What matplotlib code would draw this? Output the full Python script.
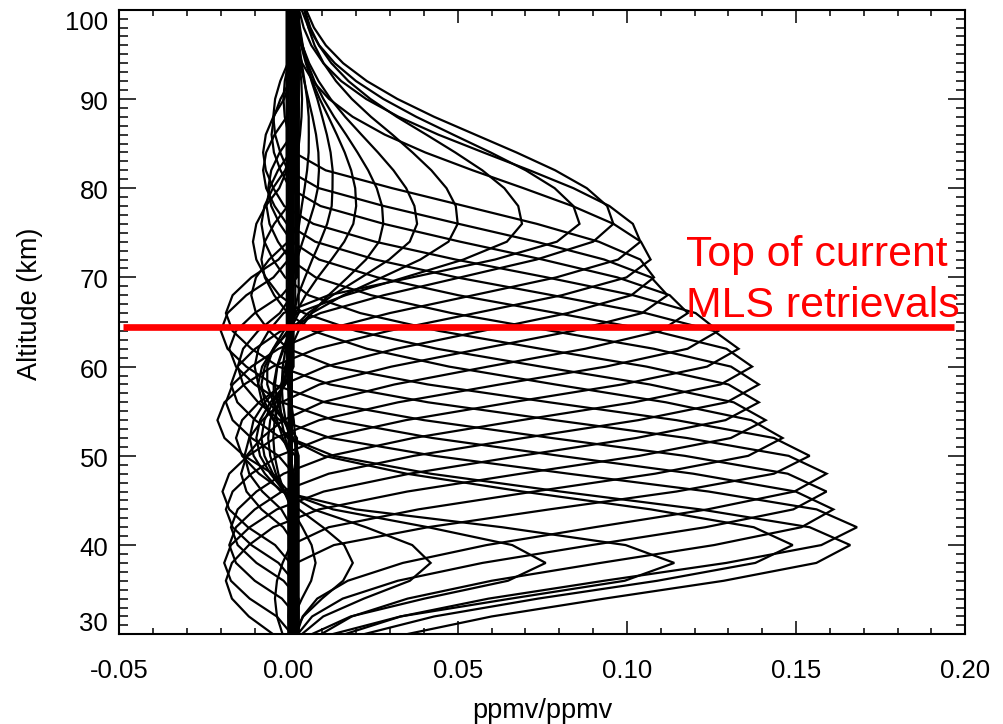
import numpy as np
import matplotlib
matplotlib.use("Agg")
import matplotlib.pyplot as plt
from matplotlib.ticker import MultipleLocator, FixedLocator

plt.rcParams['font.family'] = ['Liberation Sans', 'DejaVu Sans']

# ---------------- data ----------------
levels_km = [28, 30, 32, 34, 36, 38, 40, 42, 44, 46, 48, 50, 52, 54, 56, 58, 60, 62,
             64, 66, 68, 70, 72, 74, 76, 78, 80, 82, 84, 86, 88, 90, 92, 94, 96, 98, 100]

# kernel peak altitude (km) and peak value (ppmv/ppmv)
peak_alt = [38, 38, 38, 38, 38, 40, 40, 42, 44, 46, 48, 50, 52, 54, 56, 58, 60, 62,
            64, 66, 68, 70, 72, 74, 76, 76, 76, 76, 76, 76, 78, 80, 82, 86, 90, 94]
peak_val = [0.008, 0.019, 0.042, 0.076, 0.114, 0.149, 0.166, 0.168, 0.161, 0.159,
            0.159, 0.154, 0.146, 0.141, 0.139, 0.139, 0.137, 0.133, 0.127, 0.118,
            0.112, 0.108, 0.107, 0.104, 0.096, 0.086, 0.069, 0.050, 0.038, 0.028,
            0.020, 0.013, 0.009, 0.006, 0.004, 0.002]
# spread (km) of the main peak below / above the peak altitude
spread_low = [3.5, 3.5, 3.5, 3.5, 3.8, 5.0, 5.5, 5.5, 5.6, 5.6, 5.6, 5.6, 5.6, 5.6,
              5.6, 5.6, 5.6, 5.6, 5.6, 5.6, 5.8, 6.0, 6.0, 6.0, 6.0, 6.0, 6.0, 6.0,
              6.2, 6.4, 6.6, 7.0, 7.0, 7.0, 7.0, 7.0]
spread_up = [4.5, 4.5, 4.5, 4.5, 4.8, 5.2, 5.4, 5.6, 5.6, 5.6, 5.6, 5.6, 5.6, 5.6,
             5.6, 5.8, 6.0, 6.2, 6.5, 7.0, 7.5, 8.0, 8.6, 9.0, 9.2, 9.2, 9.2, 9.2,
             9.2, 9.2, 9.0, 8.5, 8.0, 7.0, 6.0, 5.0]
# negative side lobe below the peak: depth (ppmv/ppmv) and centre distance (km)
lobe_low = [0.0, 0.0, 0.0, 0.0, 0.0, 0.0, 0.0, 0.0, 0.0, 0.0, 0.0, 0.003, 0.006,
            0.018, 0.020, 0.020, 0.020, 0.020, 0.020, 0.016, 0.014, 0.018, 0.021,
            0.020, 0.019, 0.011, 0.009, 0.007, 0.005, 0.004, 0.003, 0.002, 0.001,
            0.0, 0.0, 0.0]
lobe_dist_low = [18, 18, 18, 18, 18, 18, 18, 18, 18, 18, 18, 18, 18, 18, 18, 18,
                 18, 18, 18, 18, 18, 18, 18, 18, 18, 16, 17, 18, 19, 20, 20, 20,
                 20, 20, 20, 20]
# negative side lobe above the peak: depth (ppmv/ppmv) and centre distance (km)
lobe_up = [0.004, 0.006, 0.009, 0.011, 0.012, 0.010, 0.012, 0.016, 0.020, 0.020,
           0.020, 0.014, 0.010, 0.010, 0.009, 0.009, 0.009, 0.009, 0.008, 0.007,
           0.0055, 0.004, 0.0, 0.0, 0.0, 0.0, 0.0, 0.0, 0.0, 0.0, 0.0, 0.0, 0.0,
           0.0, 0.0, 0.0]
lobe_dist_up = [14, 14, 14, 14, 14, 18, 18, 18, 18, 18, 18, 18, 20, 20, 20, 20,
                20, 20, 20, 20, 20, 20, 20, 20, 20, 20, 20, 20, 20, 20, 20, 20,
                20, 20, 20, 20]
lobe_half = 7.0
# small residual far from the peak (the thick bundle near zero)
tail_val = [-0.0005, 0.0000, 0.0010, 0.0015, 0.0005, 0.0020, 0.0030, 0.0010,
            0.0025, 0.0000, 0.0015, 0.0030, 0.0020, -0.0005, 0.0010, 0.0025,
            0.0030, 0.0015, 0.0005, 0.0020, 0.0010, 0.0025, 0.0000, 0.0015,
            0.0020, 0.0010, 0.0025, 0.0030, 0.0005, 0.0015, 0.0010, 0.0020,
            0.0005, 0.0010, 0.0000, 0.0005]

red_line_alt = 64.45
red_line_x = [-0.0490, 0.1968]
label_lines = ["Top of current", "MLS retrievals"]
xtick_vals = [-0.05, 0.00, 0.05, 0.10, 0.15, 0.20]
xtick_text = ["-0.05", "0.00", "0.05", "0.10", "0.15", "0.20"]
ytick_vals = [30, 40, 50, 60, 70, 80, 90, 100]
ytick_text = ["30", "40", "50", "60", "70", "80", "90", "100"]


def kernel(k):
    z = np.asarray(levels_km, dtype=float)
    v = peak_val[k]
    out = np.zeros_like(z)
    for i, zi in enumerate(z):
        d = zi - peak_alt[k]
        a = abs(d)
        if d <= 0:
            s, n, dist = spread_low[k], lobe_low[k], lobe_dist_low[k]
        else:
            s, n, dist = spread_up[k], lobe_up[k], lobe_dist_up[k]
        g = np.exp(-0.5 * (a / s) ** 2)
        if n > 0:
            c0 = dist - lobe_half
            g0 = np.exp(-0.5 * (c0 / s) ** 2)
            if a <= c0:
                val = v * (g - g0) / (1 - g0)
            elif a <= c0 + 2 * lobe_half:
                val = -n * np.sin(np.pi * (a - c0) / (2 * lobe_half))
            else:
                val = 0.0
        else:
            val = v * g
        out[i] = val + tail_val[k] * min(a / 10.0, 1.0)
    return out


# ---------------- figure ----------------
W, H = 1004, 724
fig = plt.figure(figsize=(W / 100, H / 100), dpi=100)
L, R, T, B = 119.3, 965.3, 9.7, 634.3
ax = fig.add_axes([L / W, 1 - B / H, (R - L) / W, (B - T) / H])

for k in range(len(peak_val)):
    ax.plot(kernel(k), levels_km, color='black', lw=1.6, solid_joinstyle='miter',
            zorder=2)

ax.plot(red_line_x, [red_line_alt, red_line_alt], color='#ff0000', lw=4.8,
        solid_capstyle='butt', zorder=4)

ax.set_xlim(-0.05, 0.20)
ax.set_ylim(30, 100)

ax.xaxis.set_major_locator(FixedLocator(xtick_vals))
ax.set_xticklabels(xtick_text)
ax.xaxis.set_minor_locator(MultipleLocator(0.01))
ax.yaxis.set_major_locator(FixedLocator(ytick_vals))
ax.yaxis.set_minor_locator(MultipleLocator(1))
ax.set_yticklabels([])

for sp in ax.spines.values():
    sp.set_linewidth(1.5)
    sp.set_zorder(5)

ax.tick_params(which='both', direction='in', top=True, right=True, width=1.1,
               labelsize=18.5, colors='black')
ax.tick_params(axis='x', which='major', length=9.1, pad=18)
ax.tick_params(axis='x', which='minor', length=4.3)
ax.tick_params(axis='y', which='major', length=12)
ax.tick_params(axis='y', which='minor', length=6.5)

# y tick labels (IDL style: ends pulled inside the axis range)
for val, txt in zip(ytick_vals, ytick_text):
    dy = -2.9
    if val == 100:
        dy = -9.4
    elif val == 30:
        dy = 7.2
    ax.annotate(txt, xy=(0, val), xycoords=('axes fraction', 'data'),
                xytext=(-8, dy), textcoords='offset points', ha='right',
                va='center', fontsize=18.5)

fig.text(542 / W, 1 - 718 / H, "ppmv/ppmv", ha='center', va='baseline',
         fontsize=19.5)
fig.text(30 / W, 1 - 304 / H, "Altitude (km)", ha='center', va='center',
         rotation=90, fontsize=19.5)

fig.text(686 / W, 1 - 266 / H, label_lines[0], color='#ff0000', fontsize=30.8,
         ha='left', va='baseline', zorder=6)
fig.text(686 / W, 1 - 316.7 / H, label_lines[1], color='#ff0000', fontsize=30.8,
         ha='left', va='baseline', zorder=6)

fig.savefig("out.png", dpi=100, facecolor='white')
